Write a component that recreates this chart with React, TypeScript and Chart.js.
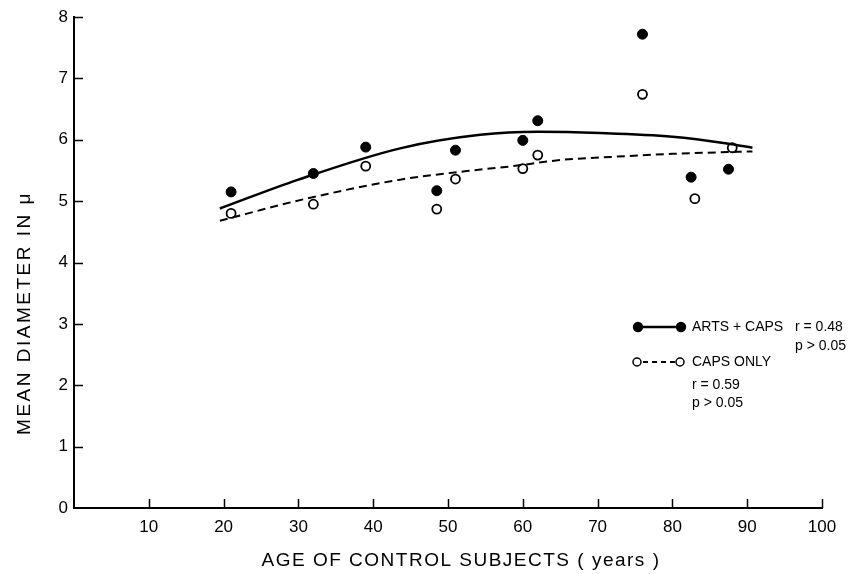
import React, { useEffect, useRef } from "react";
import { Chart, registerables } from "chart.js";

Chart.register(...registerables);

// Measured points
const artsAges = [21, 32, 39, 48.5, 51, 60, 62, 76, 82.5, 87.5];
const artsValues = [5.15, 5.45, 5.88, 5.17, 5.83, 5.99, 6.31, 7.72, 5.39, 5.52];
const capsAges = [21, 32, 39, 48.5, 51, 60, 62, 76, 83, 88];
const capsValues = [4.8, 4.95, 5.57, 4.87, 5.36, 5.53, 5.75, 6.74, 5.04, 5.87];

// Fitted curves
const artsCurveX = [19.5, 30, 43.6, 54.3, 62, 70.3, 80, 87.3, 90.7];
const artsCurveY = [4.88, 5.35, 5.86, 6.08, 6.13, 6.11, 6.05, 5.94, 5.87];
const capsCurveX = [19.5, 30.7, 43.6, 52.5, 58.7, 65, 70.3, 80, 90.7];
const capsCurveY = [4.68, 5.03, 5.35, 5.49, 5.57, 5.67, 5.71, 5.77, 5.81];

const xTickValues = [10, 20, 30, 40, 50, 60, 70, 80, 90, 100];
const yTickValues = [1, 2, 3, 4, 5, 6, 7, 8];

const xTitle = "AGE OF CONTROL SUBJECTS ( years )";
const yTitle = "MEAN DIAMETER IN μ";

const FONT = "'Liberation Sans', Arial, sans-serif";

const pts = (xs: number[], ys: number[]) => xs.map((x, i) => ({ x, y: ys[i] }));

const decorations = {
  id: "decorations",
  afterDraw(chart: any) {
    const { ctx, scales, chartArea } = chart;
    const x = scales.x;
    const y = scales.y;
    ctx.save();
    ctx.strokeStyle = "#000";
    ctx.lineWidth = 1.5;
    xTickValues.forEach((v) => {
      const px = Math.round(x.getPixelForValue(v)) + 0.5;
      ctx.beginPath();
      ctx.moveTo(px, chartArea.bottom);
      ctx.lineTo(px, chartArea.bottom - 9);
      ctx.stroke();
    });
    yTickValues.forEach((v) => {
      const py = Math.round(y.getPixelForValue(v)) + 0.5;
      ctx.beginPath();
      ctx.moveTo(chartArea.left, py);
      ctx.lineTo(chartArea.left + 9, py);
      ctx.stroke();
    });

    // axis titles
    ctx.fillStyle = "#000";
    ctx.font = `19px ${FONT}`;
    ctx.textAlign = "center";
    ctx.textBaseline = "middle";
    (ctx as any).letterSpacing = "1.5px";
    ctx.fillText(xTitle, 461, 561);
    (ctx as any).letterSpacing = "2.5px";
    ctx.save();
    ctx.translate(25, 313);
    ctx.rotate(-Math.PI / 2);
    ctx.fillText(yTitle, 0, 0);
    ctx.restore();
    (ctx as any).letterSpacing = "0px";

    // legend
    ctx.lineWidth = 2.5;
    ctx.beginPath();
    ctx.arc(638, 327, 5.2, 0, Math.PI * 2);
    ctx.fill();
    ctx.beginPath();
    ctx.arc(681, 327, 5.2, 0, Math.PI * 2);
    ctx.fill();
    ctx.beginPath();
    ctx.moveTo(643, 327);
    ctx.lineTo(676, 327);
    ctx.stroke();

    ctx.lineWidth = 1.5;
    ctx.beginPath();
    ctx.arc(637, 362, 4, 0, Math.PI * 2);
    ctx.stroke();
    ctx.beginPath();
    ctx.arc(680, 362, 4, 0, Math.PI * 2);
    ctx.stroke();
    ctx.lineWidth = 2;
    ctx.setLineDash([5, 4]);
    ctx.beginPath();
    ctx.moveTo(643, 362);
    ctx.lineTo(675, 362);
    ctx.stroke();
    ctx.setLineDash([]);

    ctx.font = `14px ${FONT}`;
    ctx.textAlign = "left";
    ctx.textBaseline = "middle";
    ctx.fillText("ARTS + CAPS", 692, 327);
    ctx.fillText("r = 0.48", 795, 327);
    ctx.fillText("p > 0.05", 795, 346);
    ctx.fillText("CAPS ONLY", 692, 362);
    ctx.fillText("r = 0.59", 692, 385);
    ctx.fillText("p > 0.05", 692, 403);
    ctx.restore();
  },
};

export default function App() {
  const ref = useRef<HTMLCanvasElement | null>(null);
  useEffect(() => {
    if (!ref.current) return;
    const chart = new Chart(ref.current, {
      type: "scatter",
      data: {
        datasets: [
          {
            type: "line",
            label: "ARTS + CAPS fit",
            data: pts(artsCurveX, artsCurveY),
            borderColor: "#000",
            borderWidth: 2.5,
            pointRadius: 0,
            cubicInterpolationMode: "monotone",
            fill: false,
          },
          {
            type: "line",
            label: "CAPS ONLY fit",
            data: pts(capsCurveX, capsCurveY),
            borderColor: "#000",
            borderWidth: 2,
            borderDash: [8, 5],
            pointRadius: 0,
            cubicInterpolationMode: "monotone",
            fill: false,
          },
          {
            label: "ARTS + CAPS",
            data: pts(artsAges, artsValues),
            backgroundColor: "#000",
            borderColor: "#000",
            pointRadius: 5,
            borderWidth: 1,
          },
          {
            label: "CAPS ONLY",
            data: pts(capsAges, capsValues),
            backgroundColor: "#fff",
            borderColor: "#000",
            pointRadius: 4.5,
            borderWidth: 1.8,
          },
        ],
      } as any,
      options: {
        animation: false,
        responsive: false,
        layout: { padding: { top: 17, right: 30, left: 0, bottom: 0 } },
        plugins: { legend: { display: false }, tooltip: { enabled: false } },
        scales: {
          x: {
            type: "linear",
            min: 0,
            max: 100,
            afterFit: (s: any) => {
              s.height = 66;
            },
            afterBuildTicks: (s: any) => {
              s.ticks = xTickValues.map((v) => ({ value: v }));
            },
            grid: { display: false, drawTicks: false },
            border: { display: true, color: "#000", width: 2 },
            ticks: {
              color: "#000",
              padding: 9,
              font: { family: FONT, size: 17 },
              maxRotation: 0,
            },
            title: { display: false },
          },
          y: {
            type: "linear",
            min: 0,
            max: 8,
            afterFit: (s: any) => {
              s.width = 74;
            },
            afterBuildTicks: (s: any) => {
              s.ticks = [0, ...yTickValues].map((v) => ({ value: v }));
            },
            grid: { display: false, drawTicks: false },
            border: { display: true, color: "#000", width: 2 },
            ticks: {
              color: "#000",
              padding: 6,
              font: { family: FONT, size: 17 },
            },
            title: { display: false },
          },
        },
      },
      plugins: [decorations],
    } as any);
    return () => chart.destroy();
  }, []);
  return (
    <div style={{ position: "absolute", left: 0, top: 0, width: 852, height: 574, background: "#fff" }}>
      <canvas ref={ref} width={852} height={574} style={{ display: "block" }} />
    </div>
  );
}
